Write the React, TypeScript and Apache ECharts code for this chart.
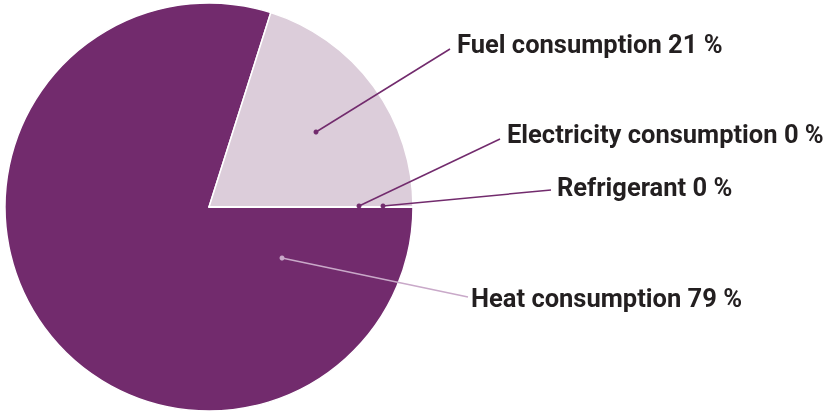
import React, { useEffect, useRef } from "react";
import * as echarts from "echarts";

// Data
const categories = ["Heat consumption", "Fuel consumption", "Electricity consumption", "Refrigerant"];
const sliceValues = [79.9, 20.1, 0, 0];
const labelPercents = [79, 21, 0, 0]; // as printed

// Styles / layout (not data)
const sliceColors = ["#722b6d", "#dccdda", "#722b6d", "#722b6d"];
const lineColors = ["#c9a9c9", "#722b6d", "#722b6d", "#722b6d"];
const CENTER: [number, number] = [209, 207];
const RADIUS = 204;
// annotation anchors (dot) and label positions
const anchors = [
  [282, 258],
  [316, 132],
  [359, 206],
  [383, 206],
];
const lineEnds = [
  [468, 297],
  [450, 49],
  [500, 139],
  [551, 190],
];
const labelPos = [
  [471, 298],
  [457, 43.5],
  [507, 133.5],
  [557, 187],
];

export default function App() {
  const ref = useRef<HTMLDivElement>(null);
  useEffect(() => {
    if (!ref.current) return;
    const chart = echarts.init(ref.current, null, { renderer: "svg" });
    const data = categories.map((name, i) => ({
      name,
      value: sliceValues[i],
      itemStyle: { color: sliceColors[i] },
    }));
    const guides: any[] = [];
    anchors.forEach((a, i) => {
      guides.push({
        type: "line",
        shape: { x1: a[0], y1: a[1], x2: lineEnds[i][0], y2: lineEnds[i][1] },
        style: { stroke: lineColors[i], lineWidth: 1.5 },
        z: 100,
      });
      guides.push({
        type: "circle",
        shape: { cx: a[0], cy: a[1], r: 2.5 },
        style: { fill: lineColors[i] },
        z: 101,
      });
    });
    chart.setOption({
      animation: false,
      series: [
        {
          type: "pie",
          center: CENTER,
          radius: RADIUS,
          startAngle: 0,
          clockwise: true,
          minShowLabelAngle: 0,
          stillShowZeroSum: true,
          avoidLabelOverlap: false,
          itemStyle: { borderColor: "#ffffff", borderWidth: 1.5 },
          label: {
            show: true,
            position: "outside",
            formatter: (p: any) => `${p.name} ${labelPercents[p.dataIndex]} %`,
            fontFamily: "Roboto",
            fontWeight: 700,
            fontSize: 25.5,
            color: "#231f20",
            width: 400,
            overflow: "none",
          },
          labelLine: { show: false },
          labelLayout: (params: any) => {
            const i = params.dataIndex;
            return {
              x: labelPos[i][0],
              y: labelPos[i][1],
              align: "left",
              verticalAlign: "middle",
            };
          },
          emphasis: { disabled: true },
          data,
        },
      ],
      graphic: guides,
    });
    return () => chart.dispose();
  }, []);
  return (
    <div
      ref={ref}
      style={{ position: "fixed", left: 0, top: 0, width: 823, height: 414 }}
    />
  );
}
